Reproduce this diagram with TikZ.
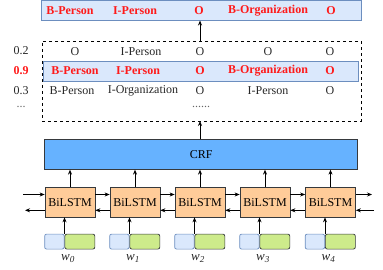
\documentclass[tikz,border=0pt]{standalone}
\usepackage{fontspec}
\setmainfont{Liberation Serif}
\usetikzlibrary{arrows.meta}
\definecolor{lblue}{HTML}{DAE8FC}
\definecolor{bblue}{HTML}{6C8EBF}
\definecolor{crfblue}{HTML}{66B2FF}
\definecolor{lorange}{HTML}{FFCC99}
\definecolor{lgreen}{HTML}{CDEB8B}
\definecolor{dgray}{HTML}{36393D}
\definecolor{redtxt}{HTML}{FF1A1A}
\tikzset{
  arr/.style={-{Stealth[length=5pt,width=4pt]}, line width=0.8pt, black},
  txt/.style={font=\fontsize{12}{14}\selectfont, text=black!85, inner sep=0pt},
  rtxt/.style={font=\fontsize{12}{14}\selectfont\bfseries, text=redtxt, inner sep=0pt},
  lstm/.style={draw=dgray, fill=lorange, minimum width=50pt, minimum height=30pt, inner sep=0pt, font=\fontsize{12}{14}\selectfont, line width=0.7pt},
  embb/.style={draw=bblue, fill=lblue, rounded corners=2pt, line width=0.7pt},
  embg/.style={draw=dgray, fill=lgreen, rounded corners=2pt, line width=0.7pt},
  wlab/.style={font=\fontsize{13}{15}\selectfont\itshape, text=black!85, inner sep=0pt}
}
\begin{document}
\begin{tikzpicture}[x=1pt, y=-1pt]
\useasboundingbox (0,0) rectangle (383,270);
% top result box
\node[draw=bblue, fill=lblue, line width=0.7pt, minimum width=320pt, minimum height=20pt, inner sep=0pt] (top) at (201,10.5) {};
\node[rtxt] (t1) at (70,11) {B-Person};
\node[rtxt] (t2) at (135,11) {I-Person};
\node[rtxt] (t3) at (199,11) {O};
\node[rtxt] (t4) at (268,11) {B-Organization};
\node[rtxt] (t5) at (331,11) {O};
% dashed candidate box
\node[draw, dashed, line width=0.7pt, minimum width=319pt, minimum height=80pt, inner sep=0pt] (cand) at (201.5,81) {};
\node[draw=bblue, fill=lblue, line width=0.7pt, minimum width=315pt, minimum height=20pt, inner sep=0pt] (best) at (201.3,71) {};
% scores
\node[txt] (s1) at (21,51) {0.2};
\node[rtxt] (s2) at (21,71) {0.9};
\node[txt] (s3) at (21,91) {0.3};
\node[txt, text=black!60] (s4) at (21,107) {...};
% row 1
\node[txt] (a1) at (75,52) {O};
\node[txt] (a2) at (141,52) {I-Person};
\node[txt] (a3) at (200,52) {O};
\node[txt] (a4) at (268,52) {O};
\node[txt] (a5) at (330,52) {O};
% row 2
\node[rtxt] (b1) at (75,71) {B-Person};
\node[rtxt] (b2) at (138,71) {I-Person};
\node[rtxt] (b3) at (200,71) {O};
\node[rtxt] (b4) at (268,71) {B-Organization};
\node[rtxt] (b5) at (330,71) {O};
% row 3
\node[txt] (c1) at (72,91) {B-Person};
\node[txt] (c2) at (143,91) {I-Organization};
\node[txt] (c3) at (200,91) {O};
\node[txt] (c4) at (268,91) {I-Person};
\node[txt] (c5) at (330,91) {O};
\node[txt, text=black!60] (c6) at (201,107) {......};
% CRF
\node[draw=dgray, fill=crfblue, line width=0.7pt, minimum width=313pt, minimum height=30pt, inner sep=0pt, font=\fontsize{12}{14}\selectfont] (crf) at (201.3,154.3) {CRF};
% arrows between layers
\coordinate (cb) at (200,20.5);
\coordinate (cc) at (200,41);
\draw[arr] (cc) -- (cb);
\coordinate (cd) at (200,139.3);
\coordinate (ce) at (200,121);
\draw[arr] (cd) -- (ce);
% BiLSTM boxes
\foreach \i/\x in {0/70,1/135,2/200,3/265,4/330.5}{
  \node[lstm] (l\i) at (\x,202.3) {BiLSTM};
  \draw[arr] (l\i.north) -- (l\i.north |- crf.south);
  % embeddings
  \node[embb, minimum width=19.5pt, minimum height=15pt, inner sep=0pt, anchor=east] (eb\i) at (\x-5.5,241.6) {};
  \node[embg, minimum width=30pt, minimum height=15pt, inner sep=0pt, anchor=west] (eg\i) at (\x-5.5,241.6) {};
  \coordinate (ep\i) at (\x-5.5,234.1);
  \coordinate (lp\i) at (\x-5.5,217.3);
  \draw[arr] (ep\i) -- (lp\i);
  \node[wlab] (w\i) at (\x-2,258.5) {w\textsubscript{\i}};
}
% horizontal recurrent arrows
\foreach \a/\b in {0/1,1/2,2/3,3/4}{
  \draw[arr] ([yshift=7.8pt]l\a.east) -- ([yshift=7.8pt]l\b.west);
  \draw[arr] ([yshift=-8pt]l\b.west) -- ([yshift=-8pt]l\a.east);
}
\coordinate (inR) at (23,194.5);
\coordinate (outL) at (25,210.3);
\coordinate (outR) at (372,194.5);
\coordinate (inL) at (374,210.3);
\draw[arr] (inR) -- (inR -| l0.west);
\draw[arr] (outL -| l0.west) -- (outL);
\draw[arr] (outR -| l4.east) -- (outR);
\draw[arr] (inL) -- (inL -| l4.east);
\end{tikzpicture}
\end{document}
